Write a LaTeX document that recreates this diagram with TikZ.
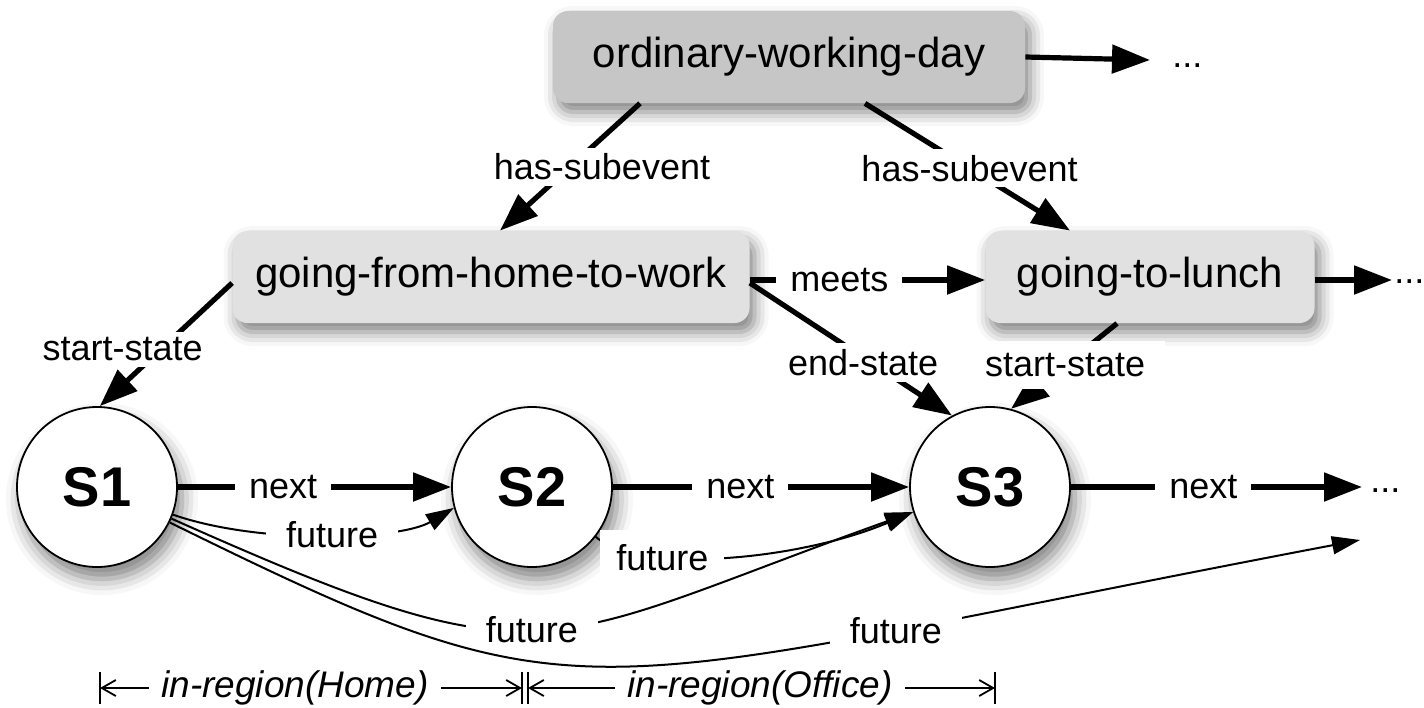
\documentclass[tikz,border=0pt]{standalone}
\usepackage{fontspec}
\setmainfont{Liberation Sans}
\usetikzlibrary{arrows.meta,shadows,shadows.blur}
\definecolor{owdgray}{RGB}{198,198,198}
\definecolor{boxgray}{RGB}{225,225,225}
\begin{document}
\begin{tikzpicture}[x=0.5pt,y=-0.5pt,
  box/.style={rounded corners=7.5pt, minimum height=46pt, inner sep=0pt,
    font=\fontsize{21}{25}\selectfont,
    blur shadow={shadow xshift=2.5pt, shadow yshift=-4.5pt, shadow blur radius=7pt, shadow opacity=50}},
  state/.style={circle, draw, line width=0.9pt, fill=white, minimum size=80pt, inner sep=0pt,
    font=\bfseries\fontsize{28}{32}\selectfont,
    blur shadow={shadow xshift=2.5pt, shadow yshift=-6pt, shadow blur radius=8pt, shadow opacity=50}},
  bigarrow/.style={line width=2.6pt, -{Triangle[length=19pt,width=14pt]}},
  thinarrow/.style={line width=1pt, -{Triangle[length=14pt,width=9pt]}},
  lbl/.style={fill=white, font=\fontsize{18}{21}\selectfont, inner xsep=7pt, inner ysep=3pt},
  flbl/.style={lbl, inner xsep=10pt},
  region/.style={font=\itshape\fontsize{18.5}{22}\selectfont, inner xsep=6pt},
  dim/.style={line width=0.9pt, -{Straight Barb[length=7pt,width=8pt]}},
  bar/.style={line width=0.9pt},
  dotsnode/.style={font=\fontsize{18}{21}\selectfont, inner sep=0pt, anchor=west},
]
\useasboundingbox (0,0) rectangle (1424,707);

% nodes
\node[box, fill=owdgray, minimum width=236pt] (owd) at (789,57) {ordinary-working-day};
\node[box, fill=boxgray, minimum width=258.5pt] (gfhw) at (491,277) {going-from-home-to-work};
\node[box, fill=boxgray, minimum width=164.5pt] (gtl) at (1150,277) {going-to-lunch};
\node[state] (S1) at (97,487) {S1};
\node[state] (S2) at (532,487) {S2};
\node[state] (S3) at (990,487) {S3};

\node[dotsnode] (d1) at (1172,66) {...};
\node[dotsnode] (d2) at (1394,282) {...};
\node[dotsnode] (d3) at (1370,491) {...};
\coordinate (a1) at (1150,60);
\coordinate (a2) at (1392,280);
\coordinate (a3) at (1362,487);
\coordinate (fend) at (1360,540);

% top level
\draw[bigarrow] (owd.east) -- (a1);
\draw[bigarrow] ([xshift=-74.5pt]owd.south) -- ([xshift=4.5pt]gfhw.north)
  node[lbl, pos=0.5, xshift=16pt, inner xsep=3pt] {has-subevent};
\draw[bigarrow] ([xshift=38pt]owd.south) -- ([xshift=-40pt]gtl.north)
  node[lbl, pos=0.51, inner xsep=3pt] {has-subevent};

% second level
\draw[bigarrow] ([yshift=-1.5pt]gfhw.east) -- ([yshift=-1.5pt]gtl.west)
  node[lbl, pos=0.38] {meets};
\draw[bigarrow] ([yshift=-1.5pt]gtl.east) -- (a2);
\draw[bigarrow] ([yshift=-3pt]gfhw.west) -- (S1.88)
  node[lbl, pos=0.54, xshift=-19pt, inner xsep=3pt] {start-state};
\draw[bigarrow] ([yshift=-3pt]gfhw.east) -- (S3.118)
  node[lbl, pos=0.6, xshift=-4pt, inner xsep=3pt] {end-state};
\draw[bigarrow] ([xshift=-16.5pt]gtl.south) -- (S3.75)
  node[lbl, pos=0.49, inner xsep=10pt, inner ysep=6pt] {start-state};

% next
\draw[bigarrow] (S1.east) -- (S2.west) node[lbl, pos=0.385] {next};
\draw[bigarrow] (S2.east) -- (S3.west) node[lbl, pos=0.43] {next};
\draw[bigarrow] (S3.east) -- (a3) node[lbl, pos=0.455] {next};

% future
\draw[thinarrow] (S1.-20) .. controls (260,545) and (400,540) .. (S2.195)
  node[flbl, pos=0.52] {future};
\draw[thinarrow] (S2.-38) .. controls (640,575) and (800,560) .. (S3.198)
  node[flbl, pos=0.3, inner xsep=8pt, inner ysep=7pt] {future};
\draw[thinarrow] (S1.-23) .. controls (551,688) and (535,647) .. (S3.198)
  node[flbl, pos=0.48] {future};
\draw[thinarrow] (S1.-26) .. controls (592,730) and (560,692) .. (fend)
  node[flbl, pos=0.75] {future};

% regions
\node[region] (home) at (295,688) {in-region(Home)};
\node[region] (office) at (760,688) {in-region(Office)};
\coordinate (b1) at (100,688);
\coordinate (b2) at (522,688);
\coordinate (b3) at (528,688);
\coordinate (b4) at (995,688);
\foreach \b in {b1,b2,b3,b4}
  \draw[bar] ([yshift=-8pt]\b) -- ([yshift=8pt]\b);
\draw[dim] (home.west) -- (b1);
\draw[dim] (home.east) -- (b2);
\draw[dim] (office.west) -- (b3);
\draw[dim] (office.east) -- (b4);
\end{tikzpicture}
\end{document}
